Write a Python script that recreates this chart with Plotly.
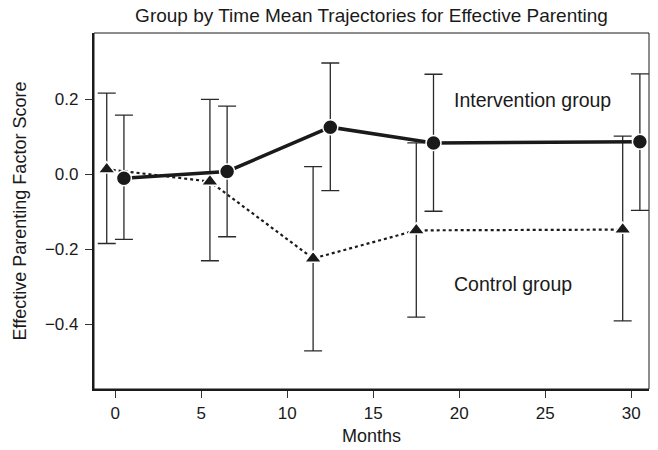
import plotly.graph_objects as go

# Data
months_control = [-0.5, 5.5, 11.5, 17.5, 29.5]
control_mean = [0.013, -0.020, -0.225, -0.150, -0.148]
control_upper = [0.216, 0.199, 0.020, 0.083, 0.101]
control_lower = [-0.185, -0.231, -0.471, -0.381, -0.391]

months_intervention = [0.5, 6.5, 12.5, 18.5, 30.5]
intervention_mean = [-0.011, 0.007, 0.125, 0.083, 0.086]
intervention_upper = [0.157, 0.181, 0.296, 0.266, 0.267]
intervention_lower = [-0.174, -0.167, -0.044, -0.099, -0.097]

x_ticks = [0, 5, 10, 15, 20, 25, 30]
y_ticks = [-0.4, -0.2, 0.0, 0.2]

FONT = "Liberation Sans, Arial, Helvetica, sans-serif"
INK = "#1a1a1a"

def err(mean, upper, lower):
    plus = [u - m for u, m in zip(upper, mean)]
    minus = [m - l for m, l in zip(mean, lower)]
    return dict(type="data", symmetric=False, array=plus, arrayminus=minus,
                color="#2a2a2a", thickness=1.3, width=9)

fig = go.Figure()
fig.add_trace(go.Scatter(
    x=months_control, y=control_mean, mode="lines+markers", name="Control group",
    line=dict(color=INK, width=2.2, dash="dot"),
    marker=dict(symbol="triangle-up", size=15, color=INK,
                line=dict(color="white", width=1.5)),
    error_y=err(control_mean, control_upper, control_lower),
))
fig.add_trace(go.Scatter(
    x=months_intervention, y=intervention_mean, mode="lines+markers",
    name="Intervention group",
    line=dict(color=INK, width=3.5),
    marker=dict(symbol="circle", size=15, color=INK,
                line=dict(color="white", width=1.5)),
    error_y=err(intervention_mean, intervention_upper, intervention_lower),
))

fig.add_annotation(x=19.6, y=0.198, xref="x", yref="y", text="Intervention group",
                   showarrow=False, xanchor="left", yanchor="middle",
                   font=dict(family=FONT, size=19.5, color=INK))
fig.add_annotation(x=19.6, y=-0.293, xref="x", yref="y", text="Control group",
                   showarrow=False, xanchor="left", yanchor="middle",
                   font=dict(family=FONT, size=19.5, color=INK))

# thin frame on top/right
fig.add_shape(type="rect", xref="paper", yref="paper", x0=0, y0=0, x1=1, y1=1,
              line=dict(color=INK, width=1), layer="above")

fig.update_layout(
    width=658, height=450,
    margin=dict(l=94, r=9, t=33, b=61, autoexpand=False),
    paper_bgcolor="white", plot_bgcolor="white",
    showlegend=False,
    font=dict(family=FONT, size=17, color=INK),
    title=dict(text="Group by Time Mean Trajectories for Effective Parenting",
               x=0.5, xref="paper", xanchor="center",
               y=1 - 15.5 / 450, yref="container", yanchor="middle",
               font=dict(family=FONT, size=19, color=INK)),
    xaxis=dict(range=[-1.24, 31.03], tickvals=x_ticks, ticks="outside",
               ticklen=7, tickwidth=1.3, tickcolor="#333",
               showline=True, linewidth=2.2, linecolor=INK,
               showgrid=False, zeroline=False,
               tickfont=dict(size=17),
               title=dict(text="Months", font=dict(size=18), standoff=8)),
    yaxis=dict(range=[-0.5728, 0.376], tickvals=y_ticks, tickformat=".1f",
               ticks="outside", ticklen=7, tickwidth=1.3, tickcolor="#333",
               showline=True, linewidth=2.2, linecolor=INK,
               showgrid=False, zeroline=False, ticklabelstandoff=3,
               tickfont=dict(size=17),
               title=dict(text="Effective Parenting Factor Score",
                          font=dict(size=18), standoff=14)),
)

fig.write_html("out.html", config={"displayModeBar": False},
               post_script="document.body.style.margin='0';document.body.style.padding='0';")
